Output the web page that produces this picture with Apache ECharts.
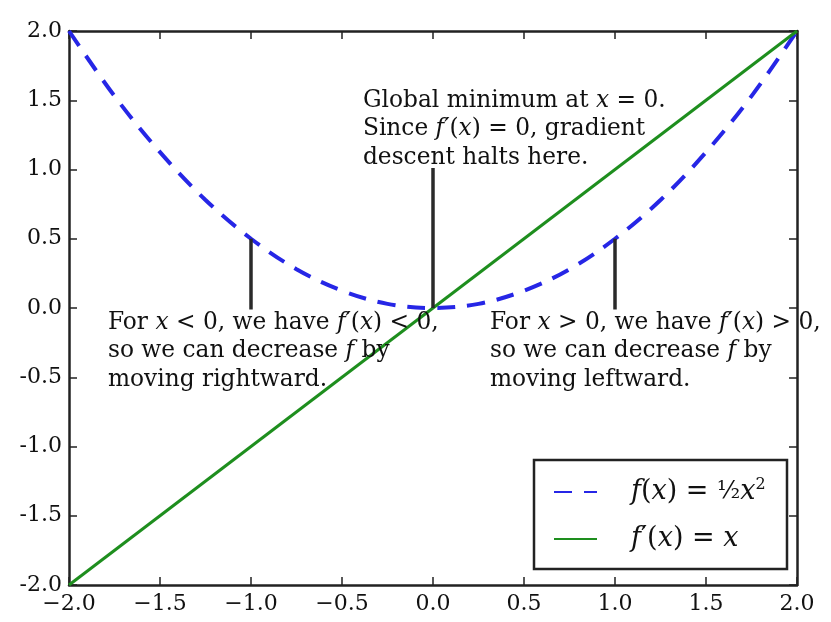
<!DOCTYPE html>
<html>
<head>
<meta charset="utf-8">
<script src="https://cdn.jsdelivr.net/npm/echarts@6/dist/echarts.min.js"></script>
<style>
html,body{margin:0;padding:0;background:#fff;}
#c{width:831px;height:622px;}
</style>
</head>
<body>
<div id="c"></div>
<script>
// ---- data ----
var xs = [-2.0, -1.75, -1.5, -1.25, -1.0, -0.75, -0.5, -0.25, 0.0, 0.25, 0.5, 0.75, 1.0, 1.25, 1.5, 1.75, 2.0];
var fVals = [2.0, 1.53, 1.125, 0.78, 0.5, 0.28, 0.125, 0.03, 0.0, 0.03, 0.125, 0.28, 0.5, 0.78, 1.125, 1.53, 2.0];
var dX = [-2.0, 2.0];
var dVals = [-2.0, 2.0];
var xTicks = [-2.0, -1.5, -1.0, -0.5, 0.0, 0.5, 1.0, 1.5, 2.0];
var yTicks = [-2.0, -1.5, -1.0, -0.5, 0.0, 0.5, 1.0, 1.5, 2.0];
// arrows: [tailX, tailY, tipX, tipY]
var arrows = [[-1.0, -0.01, -1.0, 0.5], [0.0, 1.01, 0.0, 0.0], [1.0, -0.01, 1.0, 0.5]];
// annotation text anchors (top-left of text block, data coords)
var noteAnchors = [[-0.385, 1.60], [-1.786, -0.005], [0.313, -0.005]];
var noteTexts = [
  'Global minimum at {i|x} = 0.\nSince {i|f′}({i|x}) = 0, gradient\ndescent halts here.',
  'For {i|x} < 0, we have {i|f′}({i|x}) < 0,\nso we can decrease {i|f} by\nmoving rightward.',
  'For {i|x} > 0, we have {i|f′}({i|x}) > 0,\nso we can decrease {i|f} by\nmoving leftward.'
];
var seriesNames = ['f(x) = 1/2 x^2', "f'(x) = x"];

var FONT = 'DejaVu Serif';
var BLUE = '#2626e6';
var GREEN = '#1e8e1e';
var AX = '#222';
var TXT = '#111';
var NOTE_SIZE = 23.3;

function zip(a, b) { return a.map(function (v, i) { return [v, b[i]]; }); }

var chart = echarts.init(document.getElementById('c'), null, {renderer: 'canvas'});

function axisCommon(extra) {
  var o = {
    type: 'value', min: -2, max: 2, interval: 0.5,
    splitLine: {show: false},
    axisLine: {show: true, onZero: false, lineStyle: {color: AX, width: 2.5}},
    axisTick: {show: true, inside: true, length: 8, lineStyle: {color: AX, width: 1.5}}
  };
  for (var k in extra) o[k] = extra[k];
  return o;
}

var richText = {
  n: {fontFamily: FONT, fontSize: NOTE_SIZE, color: TXT, lineHeight: 28.5},
  i: {fontFamily: FONT, fontStyle: 'italic', fontSize: NOTE_SIZE, color: TXT, lineHeight: 28.5}
};

function wrapPlain(t) {
  return t.split('\n').map(function (line) {
    var out = '', re = /\{i\|([^}]*)\}/g, last = 0, m;
    while ((m = re.exec(line)) !== null) {
      if (m.index > last) out += '{n|' + line.slice(last, m.index) + '}';
      out += m[0];
      last = re.lastIndex;
    }
    if (last < line.length) out += '{n|' + line.slice(last) + '}';
    return out;
  }).join('\n');
}

var noteSeries = noteTexts.map(function (t, k) {
  var txt = wrapPlain(t);
  return {
    type: 'scatter', xAxisIndex: 0, yAxisIndex: 0, symbolSize: 0, silent: true, z: 4,
    itemStyle: {opacity: 1},
    data: [noteAnchors[k]],
    label: {
      show: true, position: [0, 0], align: 'left', verticalAlign: 'top', opacity: 1,
      fontFamily: FONT, fontSize: NOTE_SIZE, color: TXT, lineHeight: 28.5,
      formatter: function () { return txt; },
      rich: richText
    }
  };
});

var arrowSeries = arrows.map(function (a) {
  return {
    type: 'line', xAxisIndex: 0, yAxisIndex: 0, symbol: 'none', silent: true, z: 3,
    lineStyle: {color: '#2a2a2a', width: 3.5},
    data: [[a[0], a[1]], [a[2], a[3]]]
  };
});

var legendRich = {
  g: {width: 29},
  i: {fontFamily: FONT, fontStyle: 'italic', fontSize: 27, color: TXT, lineHeight: 30},
  r: {fontFamily: FONT, fontSize: 27, color: TXT, lineHeight: 30},
  fr: {fontFamily: FONT, fontSize: 24, color: TXT, lineHeight: 30},
  sup: {fontFamily: FONT, fontSize: 16, color: TXT, lineHeight: 16, verticalAlign: 'top'}
};

chart.setOption({
  animation: false,
  backgroundColor: '#fff',
  grid: {left: 69, right: 34, top: 31, bottom: 37, containLabel: false},
  xAxis: [
    axisCommon({position: 'bottom', axisLabel: {
      show: true, margin: 8, fontFamily: FONT, fontSize: 22, color: TXT,
      formatter: function (v) { return v.toFixed(1).replace('-', '\u2212'); }
    }}),
    axisCommon({position: 'top', axisLabel: {show: false}})
  ],
  yAxis: [
    axisCommon({position: 'left', axisLabel: {
      show: true, margin: 7, fontFamily: FONT, fontSize: 22, color: TXT,
      formatter: function (v) { return v.toFixed(1); }
    }}),
    axisCommon({position: 'right', axisLabel: {show: false}})
  ],
  legend: {
    orient: 'vertical', left: 534, top: 460,
    padding: [17, 10, 15, 19],
    itemGap: 17, itemWidth: 43, itemHeight: 14,
    borderColor: AX, borderWidth: 2.5, borderRadius: 0,
    backgroundColor: '#fff',
    selectedMode: false,
    itemStyle: {color: 'rgba(0,0,0,0)', borderColor: 'rgba(0,0,0,0)', borderWidth: 0, opacity: 0},
    data: seriesNames,
    textStyle: {width: 175, rich: legendRich, fontFamily: FONT, fontSize: 27, lineHeight: 30},
    formatter: function (name) {
      if (name === seriesNames[0]) return '{g| }{i|f}{r|(}{i|x}{r|) = }{fr|\u00bd}{i|x}{sup|2}';
      return '{g| }{i|f}{r|\u2032(}{i|x}{r|) = }{i|x}';
    }
  },
  series: [
    {
      name: seriesNames[0], type: 'line', xAxisIndex: 0, yAxisIndex: 0,
      data: zip(xs, fVals), smooth: 0.35, symbol: 'none', z: 2,
      lineStyle: {color: BLUE, width: 4, type: [18, 12]},
      itemStyle: {color: BLUE}
    },
    {
      name: seriesNames[1], type: 'line', xAxisIndex: 0, yAxisIndex: 0,
      data: zip(dX, dVals), symbol: 'none', z: 2,
      lineStyle: {color: GREEN, width: 3},
      itemStyle: {color: GREEN}
    }
  ].concat(arrowSeries).concat(noteSeries)
});
</script>
</body>
</html>
